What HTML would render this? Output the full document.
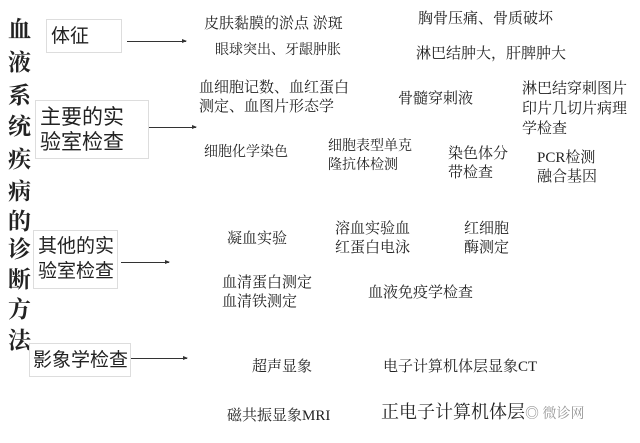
<!DOCTYPE html>
<html><head><meta charset="utf-8"><style>
body{margin:0;width:640px;height:443px;background:#fff;position:relative;overflow:hidden;font-family:"Liberation Serif","Noto Serif CJK SC",serif;color:#222}
.t{position:absolute;white-space:nowrap;font-size:15px;line-height:19px}
.b{position:absolute;border:1px solid #ddd;font-size:19px;line-height:25px;padding-left:4px;box-sizing:border-box;white-space:nowrap;font-family:"Liberation Sans","Noto Sans CJK SC",sans-serif}
.v{position:absolute;left:8px;font-size:23px;font-weight:bold;font-family:"Noto Serif CJK SC",serif;line-height:24px}
.a{position:absolute;height:1px;background:#333}
.a:after{content:"";position:absolute;right:-1px;top:-2px;border-left:5px solid #333;border-top:2.5px solid transparent;border-bottom:2.5px solid transparent}
</style></head><body>
<div class="v" style="top:16px">血</div><div class="v" style="top:49px">液</div><div class="v" style="top:82px">系</div><div class="v" style="top:113px">统</div><div class="v" style="top:146px">疾</div><div class="v" style="top:178px">病</div><div class="v" style="top:208px">的</div><div class="v" style="top:236px">诊</div><div class="v" style="top:266px">断</div><div class="v" style="top:296px">方</div><div class="v" style="top:327px">法</div>

<div class="b" style="left:46px;top:19px;width:76px;height:34px;padding-top:4px">体征</div>
<div class="b" style="left:35px;top:100px;width:114px;height:59px;padding-top:4px;font-size:21px">主要的实<br>验室检查</div>
<div class="b" style="left:33px;top:230px;width:85px;height:59px;padding-top:3px;padding-left:4px">其他的实<br>验室检查</div>
<div class="b" style="left:29px;top:343px;width:102px;height:34px;padding-top:4px;padding-left:3px">影象学检查</div>

<div class="a" style="left:127px;top:41px;width:59px"></div>
<div class="a" style="left:149px;top:127px;width:47px"></div>
<div class="a" style="left:121px;top:262px;width:48px"></div>
<div class="a" style="left:131px;top:358px;width:56px"></div>

<div class="t" style="left:204px;top:15px">皮肤黏膜的淤点 淤斑</div>
<div class="t" style="left:215px;top:41px;font-size:14px">眼球突出、牙龈肿胀</div>
<div class="t" style="left:418px;top:10px">胸骨压痛、骨质破坏</div>
<div class="t" style="left:416px;top:45px">淋巴结肿大，肝脾肿大</div>
<div class="t" style="left:199px;top:79px">血细胞记数、血红蛋白<br>测定、血图片形态学</div>
<div class="t" style="left:398px;top:90px">骨髓穿刺液</div>
<div class="t" style="left:522px;top:79px;line-height:20px">淋巴结穿刺图片<br>印片几切片病理<br>学检查</div>
<div class="t" style="left:204px;top:143px;font-size:14px">细胞化学染色</div>
<div class="t" style="left:328px;top:137px;font-size:14px">细胞表型单克<br>隆抗体检测</div>
<div class="t" style="left:448px;top:145px">染色体分<br>带检查</div>
<div class="t" style="left:537px;top:149px">PCR检测<br>融合基因</div>
<div class="t" style="left:227px;top:230px">凝血实验</div>
<div class="t" style="left:335px;top:220px">溶血实验血<br>红蛋白电泳</div>
<div class="t" style="left:464px;top:220px">红细胞<br>酶测定</div>
<div class="t" style="left:222px;top:274px">血清蛋白测定<br>血清铁测定</div>
<div class="t" style="left:368px;top:284px">血液免疫学检查</div>
<div class="t" style="left:252px;top:358px">超声显象</div>
<div class="t" style="left:383px;top:358px">电子计算机体层显象CT</div>
<div class="t" style="left:227px;top:407px">磁共振显象MRI</div>
<div class="t" style="left:381px;top:401px;font-size:18px;line-height:22px">正电子计算机体层<span style="color:#999;font-size:14px">◎ 微诊网</span></div>
</body></html>
